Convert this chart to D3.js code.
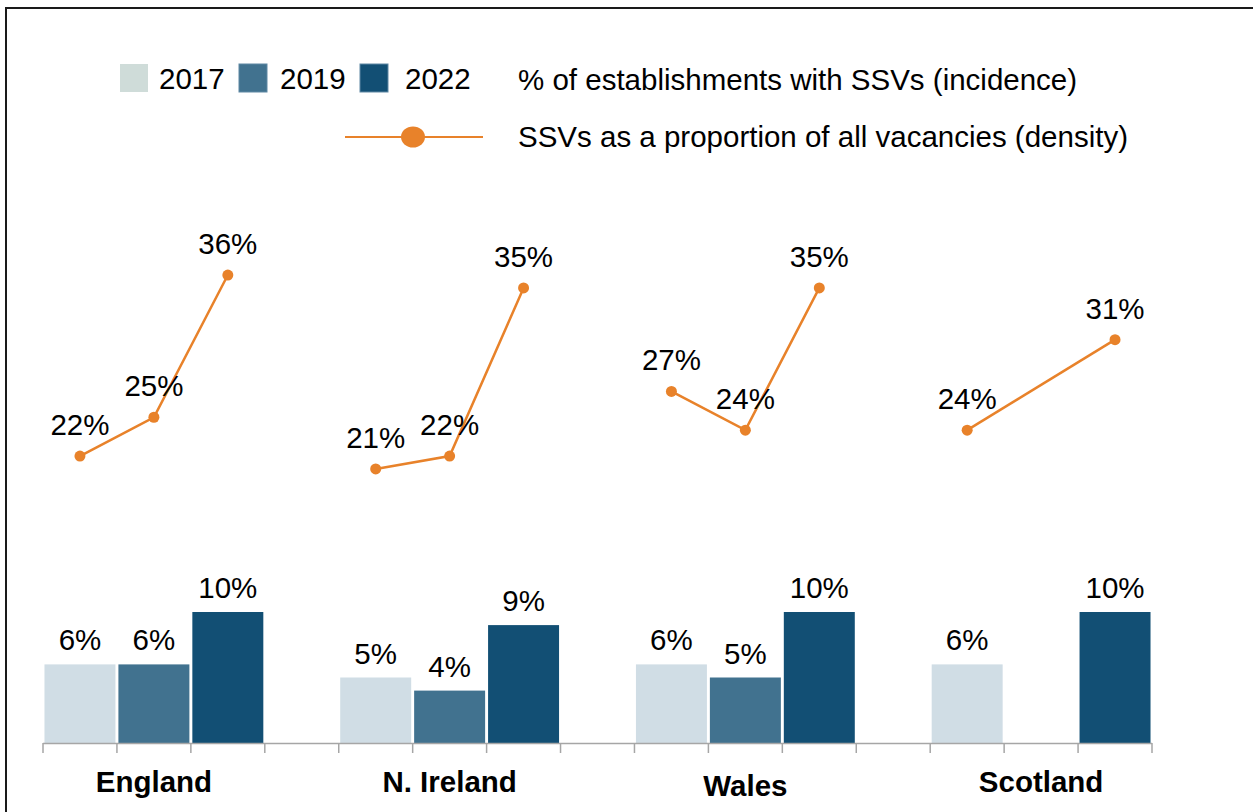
<!DOCTYPE html>
<html>
<head>
<meta charset="utf-8">
<script src="https://cdn.jsdelivr.net/npm/d3@7"></script>
<style>
    body { margin: 0; background: #fff; }
    svg text { font-family: "Liberation Sans", Arial, sans-serif; fill: #000; }
</style>
</head>
<body>
<div id="chart"></div>
<script>
var countries = ["England", "N. Ireland", "Wales", "Scotland"],
    years = ["2017", "2019", "2022"],
    // % of establishments with SSVs (incidence), per country, per year
    incidence = [[6, 6, 10], [5, 4, 9], [6, 5, 10], [6, null, 10]],
    // SSVs as a proportion of all vacancies (density)
    density = [[22, 25, 36], [21, 22, 35], [27, 24, 35], [24, null, 31]],
    barColors = ["#d0dde5", "#41728f", "#124f74"],
    legendSwatchColors = ["#cfdcd9", "#41728f", "#124f74"],
    incidenceLabel = "% of establishments with SSVs (incidence)",
    densityLabel = "SSVs as a proportion of all vacancies (density)";

(function() {
    var width = 1253,
        height = 812,
        plotLeft = 43,
        plotRight = 1152,
        plotBottom = 743,
        orange = "#e8822a",
        fontSize = 29.5;

    var svg = d3.select("#chart").append("svg")
                .attr("width", width)
                .attr("height", height);

    //outer frame, runs off the right and bottom of the picture
    svg.append("rect")
       .attr("x", 6)
       .attr("y", 8)
       .attr("width", width + 20)
       .attr("height", height + 20)
       .style("fill", "none")
       .style("stroke", "#1a1a1a")
       .style("stroke-width", 2);

    var x0 = d3.scaleBand()
               .domain(countries)
               .range([plotLeft, plotRight])
               .paddingInner(0.25)
               .paddingOuter(0);

    var x1 = d3.scaleBand()
               .domain(years)
               .range([0, x0.bandwidth()])
               .paddingInner(0.04)
               .paddingOuter(0.02);

    var slot = x0.bandwidth() / years.length;

    //bars and line use separate axes
    var yBar = d3.scaleLinear().domain([0, 50]).range([plotBottom, 88]);
    var yLine = d3.scaleLinear().domain([0, 50]).range([plotBottom - 2.5, 94]);

    var groups = svg.selectAll(".country")
                    .data(countries)
                    .enter()
                    .append("g")
                    .attr("class", "country")
                    .attr("transform", function(d) {return "translate(" + x0(d) + ",0)"; });

    var barData = function(d, i) {
        var out = [];
        for (var j = 0; j < years.length; j += 1) {
            if (incidence[i][j] !== null) {
                out.push({year : years[j], value : incidence[i][j], color : barColors[j]});
            }
        }
        return out;
    };

    groups.selectAll(".bar")
          .data(barData)
          .enter()
          .append("rect")
          .attr("class", "bar")
          .attr("x", function(d) {return x1(d.year); })
          .attr("width", x1.bandwidth())
          .attr("y", function(d) {return yBar(d.value); })
          .attr("height", function(d) {return yBar(0) - yBar(d.value); })
          .style("fill", function(d) {return d.color; });

    groups.selectAll(".barLabel")
          .data(barData)
          .enter()
          .append("text")
          .attr("class", "barLabel")
          .attr("x", function(d) {return x1(d.year) + x1.bandwidth() / 2; })
          .attr("y", function(d) {return yBar(d.value) - 14; })
          .attr("text-anchor", "middle")
          .style("font-size", fontSize + "px")
          .text(function(d) {return d.value + "%"; });

    //axis line and ticks at every bar slot boundary
    svg.append("line")
       .attr("x1", plotLeft)
       .attr("x2", plotRight)
       .attr("y1", plotBottom + 0.5)
       .attr("y2", plotBottom + 0.5)
       .style("stroke", "#a6a6a6")
       .style("stroke-width", 1.5);

    groups.selectAll(".tick")
          .data(d3.range(years.length + 1))
          .enter()
          .append("line")
          .attr("class", "tick")
          .attr("x1", function(d) {return d * slot; })
          .attr("x2", function(d) {return d * slot; })
          .attr("y1", plotBottom)
          .attr("y2", plotBottom + 10)
          .style("stroke", "#a6a6a6")
          .style("stroke-width", 1.5);

    groups.append("text")
          .attr("x", x0.bandwidth() / 2)
          .attr("y", function(d) {return d === "Wales" ? 796 : 792; })
          .attr("text-anchor", "middle")
          .style("font-size", fontSize + "px")
          .style("font-weight", "bold")
          .text(function(d) {return d; });

    //density lines
    var pointData = function(d, i) {
        var out = [];
        for (var j = 0; j < years.length; j += 1) {
            if (density[i][j] !== null) {
                out.push({year : years[j], value : density[i][j]});
            }
        }
        return out;
    };

    var line = d3.line()
                 .x(function(d) {return x1(d.year) + x1.bandwidth() / 2; })
                 .y(function(d) {return yLine(d.value); });

    groups.append("path")
          .attr("d", function(d, i) {return line(pointData(d, i)); })
          .style("fill", "none")
          .style("stroke", orange)
          .style("stroke-width", 2.5);

    groups.selectAll(".point")
          .data(pointData)
          .enter()
          .append("circle")
          .attr("class", "point")
          .attr("cx", function(d) {return x1(d.year) + x1.bandwidth() / 2; })
          .attr("cy", function(d) {return yLine(d.value); })
          .attr("r", 5.5)
          .style("fill", orange);

    groups.selectAll(".pointLabel")
          .data(pointData)
          .enter()
          .append("text")
          .attr("class", "pointLabel")
          .attr("x", function(d) {return x1(d.year) + x1.bandwidth() / 2; })
          .attr("y", function(d) {return yLine(d.value) - 21; })
          .attr("text-anchor", "middle")
          .style("font-size", fontSize + "px")
          .text(function(d) {return d.value + "%"; });

    //legend
    var legendX = [120, 239, 360],
        legendTextX = [159, 280, 405];

    var legend = svg.append("g").attr("class", "legend");

    legend.selectAll("rect")
          .data(years)
          .enter()
          .append("rect")
          .attr("x", function(d, i) {return legendX[i]; })
          .attr("y", 64)
          .attr("width", 28)
          .attr("height", 28)
          .style("fill", function(d, i) {return legendSwatchColors[i]; })
          .style("stroke", function(d, i) {return i > 0 ? "#5f88a3" : "none"; })
          .style("stroke-width", 1);

    legend.selectAll(".yearText")
          .data(years)
          .enter()
          .append("text")
          .attr("class", "yearText")
          .attr("x", function(d, i) {return legendTextX[i]; })
          .attr("y", 89)
          .style("font-size", fontSize + "px")
          .text(function(d) {return d; });

    legend.append("text")
          .attr("x", 518)
          .attr("y", 90)
          .style("font-size", fontSize + "px")
          .text(incidenceLabel);

    legend.append("line")
          .attr("x1", 345)
          .attr("x2", 483)
          .attr("y1", 137)
          .attr("y2", 137)
          .style("stroke", orange)
          .style("stroke-width", 2);

    legend.append("ellipse")
          .attr("cx", 413)
          .attr("cy", 137)
          .attr("rx", 12)
          .attr("ry", 10.5)
          .style("fill", orange);

    legend.append("text")
          .attr("x", 518)
          .attr("y", 147)
          .style("font-size", fontSize + "px")
          .text(densityLabel);
})();
</script>
</body>
</html>
